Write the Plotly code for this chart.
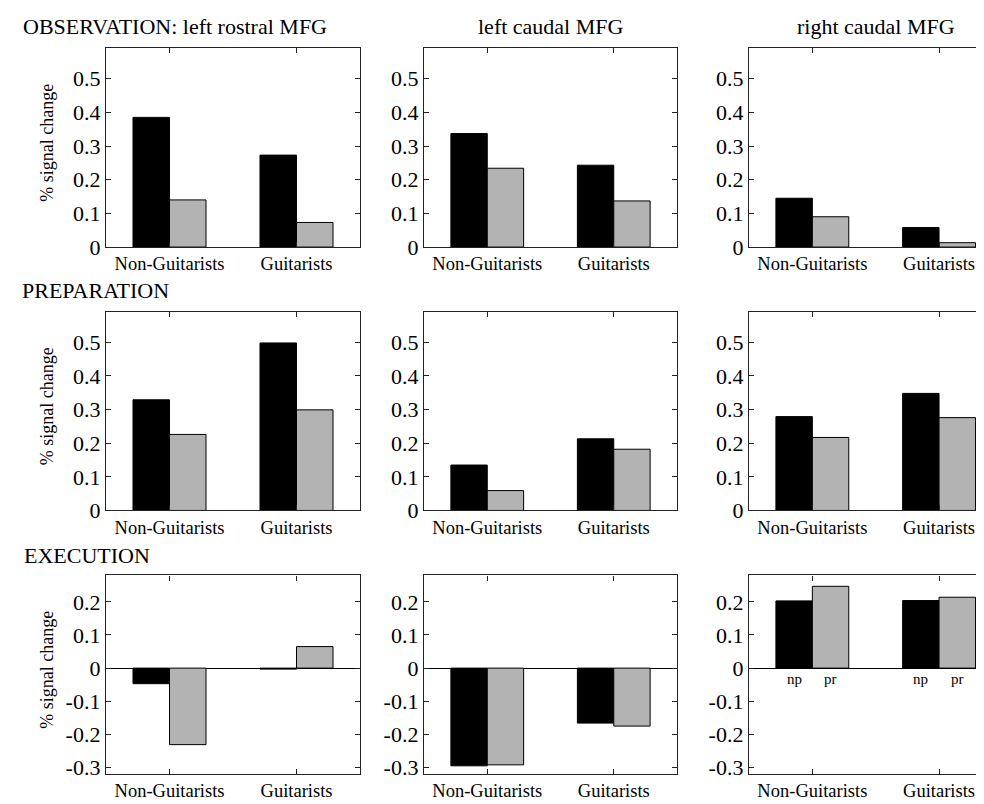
import plotly.graph_objects as go

groups = ["Non-Guitarists", "Guitarists"]
regions = ["left rostral MFG", "left caudal MFG", "right caudal MFG"]
phases = ["OBSERVATION", "PREPARATION", "EXECUTION"]
series = ["np", "pr"]

# values [region][group]
obs_np = [[0.385, 0.273], [0.337, 0.243], [0.145, 0.058]]
obs_pr = [[0.140, 0.073], [0.234, 0.137], [0.090, 0.013]]
prep_np = [[0.329, 0.498], [0.135, 0.213], [0.279, 0.348]]
prep_pr = [[0.226, 0.299], [0.059, 0.182], [0.217, 0.276]]
exec_np = [[-0.047, -0.003], [-0.295, -0.166], [0.203, 0.204]]
exec_pr = [[-0.231, 0.065], [-0.292, -0.175], [0.247, 0.214]]

ytick_pos_top = [0, 0.1, 0.2, 0.3, 0.4, 0.5]
ytick_txt_top = ["0", "0.1", "0.2", "0.3", "0.4", "0.5"]
ytick_pos_exec = [-0.3, -0.2, -0.1, 0, 0.1, 0.2]
ytick_txt_exec = ["-0.3", "-0.2", "-0.1", "0", "0.1", "0.2"]

ylabel = "% signal change"
np_color = "black"
pr_color = "#b3b3b3"

data_np = [obs_np, prep_np, exec_np]
data_pr = [obs_pr, prep_pr, exec_pr]

W, H = 984, 804
col_px = [(98, 352), (416, 669), (741, 984)]
row_px = [(41, 243), (309, 510.7), (576.7, 778.7)]
xranges = [[0.5, 2.5], [0.5, 2.5], [0.5, 2.418]]
yranges = [[0, 0.59], [0, 0.59], [-0.32, 0.28]]

FONT = "Times New Roman, Liberation Serif, DejaVu Serif, serif"
fig = go.Figure()
layout = {}
xs = [1, 2]
for r in range(3):
    for c in range(3):
        idx = r * 3 + c + 1
        sfx = "" if idx == 1 else str(idx)
        fig.add_trace(go.Bar(x=xs, y=data_np[r][c], name=series[0],
                             marker=dict(color=np_color, line=dict(color="black", width=1)),
                             xaxis="x" + sfx, yaxis="y" + sfx, showlegend=False))
        fig.add_trace(go.Bar(x=xs, y=data_pr[r][c], name=series[1],
                             marker=dict(color=pr_color, line=dict(color="black", width=1)),
                             xaxis="x" + sfx, yaxis="y" + sfx, showlegend=False))
        x0, x1 = col_px[c]
        y0, y1 = row_px[r]
        common = dict(showline=True, linecolor="#222", linewidth=1.3, ticks="inside",
                      ticklen=5, tickcolor="#222", showgrid=False)
        layout["xaxis" + sfx] = dict(domain=[x0 / W, x1 / W], range=xranges[c],
                                     anchor="y" + sfx, tickvals=xs, ticktext=groups,
                                     mirror="ticks", zeroline=False,
                                     tickfont=dict(family=FONT, size=18.5, color="black"),
                                     **common)
        tp = ytick_pos_exec if r == 2 else ytick_pos_top
        tt = ytick_txt_exec if r == 2 else ytick_txt_top
        layout["yaxis" + sfx] = dict(domain=[1 - y1 / H, 1 - y0 / H], range=yranges[r],
                                     anchor="x" + sfx, tickvals=tp, ticktext=tt,
                                     mirror=("ticks" if c < 2 else False),
                                     zeroline=True, zerolinecolor="black", zerolinewidth=1,
                                     tickfont=dict(family=FONT, size=22, color="black"),
                                     **common)

ann = []
tf = dict(family=FONT, size=22, color="black")
ann.append(dict(text=phases[0] + ": " + regions[0], x=13 / W, y=1 - 19 / H, xref="paper", yref="paper",
                xanchor="left", yanchor="middle", showarrow=False, font=tf))
for c in (1, 2):
    ann.append(dict(text=regions[c], x=(col_px[c][0] + col_px[c][0] + 253) / 2 / W, y=1 - 19 / H,
                    xref="paper", yref="paper", xanchor="center", yanchor="middle",
                    showarrow=False, font=tf))
ann.append(dict(text=phases[1], x=12 / W, y=1 - 287 / H, xref="paper", yref="paper",
                xanchor="left", yanchor="middle", showarrow=False, font=tf))
ann.append(dict(text=phases[2], x=14 / W, y=1 - 557 / H, xref="paper", yref="paper",
                xanchor="left", yanchor="middle", showarrow=False, font=tf))
for r in range(3):
    yc = (row_px[r][0] + row_px[r][1]) / 2 - 5
    ann.append(dict(text=ylabel, x=39 / W, y=1 - yc / H, xref="paper", yref="paper",
                    xanchor="center", yanchor="middle", textangle=-90, showarrow=False,
                    font=dict(family=FONT, size=18, color="black")))
bargap = 0.425
bw = (1 - bargap) / 2
for g in xs:
    for k, s in enumerate(series):
        ann.append(dict(text=s, x=g + (k - 0.5) * bw, y=0, xref="x9", yref="y9",
                        xanchor="center", yanchor="top", yshift=-1, showarrow=False,
                        font=dict(family=FONT, size=15, color="black")))

fig.update_layout(**layout)
fig.update_layout(width=W, height=H, margin=dict(l=0, r=0, t=0, b=0),
                  paper_bgcolor="white", plot_bgcolor="white",
                  barmode="group", bargap=bargap, bargroupgap=0,
                  annotations=ann, showlegend=False)
fig.write_html("out.html")
